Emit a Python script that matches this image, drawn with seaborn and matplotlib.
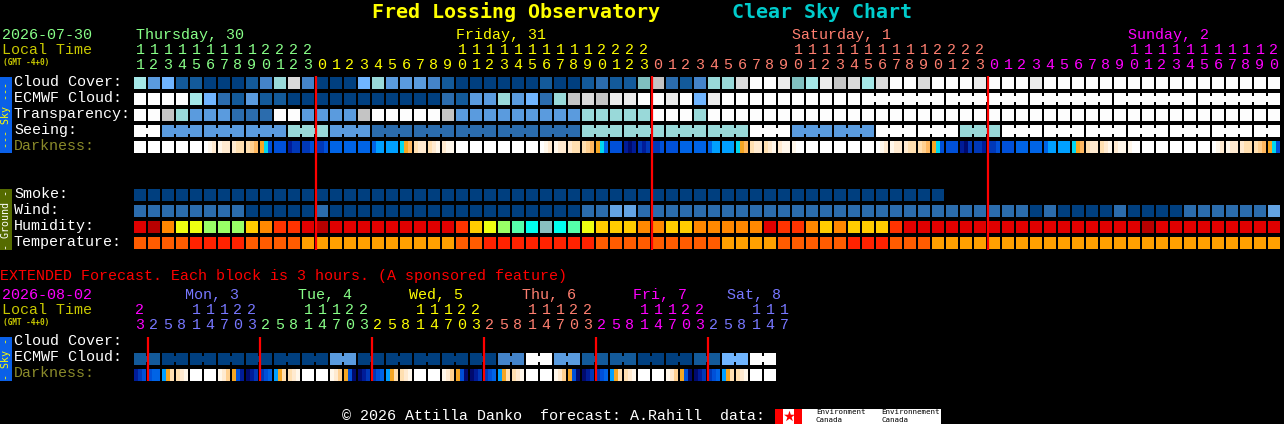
import numpy as np
import matplotlib
matplotlib.use("Agg")
import matplotlib.pyplot as plt
from matplotlib.colors import ListedColormap
from matplotlib.patches import Rectangle
import seaborn as sns

W, H = 1284, 424
BODY_FONT = ['Liberation Mono', 'DejaVu Sans Mono']

# ---- data -----------------------------------------------------------------
cloud_cover = list("8451100013" "6A30005644" "4310000001" "0012117921" "366ACCB78B"
                   "9A8ACCACCC" "BCCCBCCCCC" "CCCCCCCCCCCC")
ecmwf_cloud = list("CCCC852141" "1000000000" "0021446452" "69A9BBCCBC" "5BCCCCCCCC"
                   "CC" "CCCCCC" "CCCCCC" "CCCCCC" "CCCCCC" "CCCCCC")
ecmwf_single_cells = 52
ecmwf_block = 6
transparency = list("CC96444222" "CC44449CCC" "CC94444444" "4466666CCC" "6"
                    "CCCCCCCCCC" "CCCCCCCCCC" "CCCCCCCCCC" "CCCCCCCCCCC")
seeing_blocks = ["CC", "444", "444", "444", "666", "444", "222", "222", "222", "222", "222",
                 "666", "666", "666", "666", "CCC", "444", "444", "CCC", "CCC", "666",
                 "CCC", "CCC", "CCC", "CCC", "CCC", "CCC", "CC"]
darkness = ["WWW", "WWW", "WWW", "WWW", "WWW", "Wwc", "wcc", "cpp", "pPo", "Oqe",
            "eee", "ndd", "dde", "dde", "BBB", "BBB", "BBB", "Bbb", "bbb", "qOo",
            "pcc", "pcw", "cww", "WWW", "WWW", "WWW", "WWW", "WWW", "WWW", "Wwc",
            "wcc", "cpp", "pPo", "OqB", "eee", "nNn", "dnd", "dde", "eee", "BBB",
            "BBB", "Bbb", "bbb", "qOo", "pcc", "pcw", "cww", "wWW", "WWW", "WWW",
            "WWW", "WWW", "WWW", "Wwc", "wcc", "cpp", "pPo", "Oqe", "eee", "nNd",
            "ddn", "dde", "eee", "BBB", "BBB", "Bbb", "bbb", "qOo", "pcc", "pcw",
            "cww", "wWW", "WWW", "WWW", "WWW", "WWW", "WWW", "Wwc", "wcc", "cpp",
            "pPo", "Oqe"]
smoke = list("0000000000" "0000000000" "0000000000" "0000000000" "0000000000" "00000000")
wind = list("mmmmmmmm" "ddddd" "m" "dddddddddddddddddd" "mm" "ll"
            "mmmmmmmmmmmmmmmmmmmmmmmmmmmm" "d" "m" "dddd" "m" "dddd" "mmmmmm" "l")
humidity = list("rROYYgggyO" "oorRrrrrrr" "rrroyYgmct" "cmYyyyOOyy" "OOOOOrooOy"
                "Oy" "yy" "o" "rrrrrrrrrrrrrrrrr" "R" "rrrrrrrrr")
temperature = list("DDDD" "TTTT" "DDDD" "AAAAAAAAAAA" "DD" "TTTTTTTT" "DDDDDDDDD"
                   "AAAA" "DDDDD" "TTT" "DDD" "AAAAAAAAAAAAAAAAAAAAAAAAA")

ext_ecmwf_pairs = list("1000000" "4" "00000" "3" "C" "4" "11" "00" "1" "5" "C")
ext_darkness = ["nde", "eBB", "bOp", "pcw", "WWW", "WWW", "wcP", "Oen",
                "Nnd", "deB", "bOp", "pcw", "WWW", "WWW", "wcP", "OeN",
                "Nnd", "deB", "bOp", "pcw", "WWW", "WWW", "wcP", "OeN",
                "Nnd", "deB", "bOp", "pcw", "WWW", "WWW", "wcP", "OeN",
                "Nnd", "deB", "bOp", "pcw", "WWW", "WWW", "wcP", "OeN",
                "Nnd", "deB", "bOp", "pcw", "WWW", "WWW"]

hours_main = list(range(11, 24)) + list(range(24)) * 2 + list(range(21))
hours_ext = [23] + [2, 5, 8, 11, 14, 17, 20, 23] * 5 + [2, 5, 8, 11, 14, 17]
hours_main_days = [13, 24, 24, 21]
hours_ext_days = [1, 8, 8, 8, 8, 8, 6]

# ---- palettes -------------------------------------------------------------
sky_pal = {'0': '#003F7F', '1': '#135A9A', '2': '#2B6CAD', '3': '#4484CA', '4': '#5A9BDE',
           '5': '#70B5FF', '6': '#99D9D9', '7': '#80BFBF', '8': '#A5E8E8', '9': '#C4C4C4',
           'A': '#DADADA', 'B': '#EBEBEB', 'C': '#FDFDFD'}
dark_pal = {'W': '#FFFFFF', 'w': '#FFF7EB', 'c': '#FFEAD0', 'p': '#FFDFB0', 'P': '#FFD090',
            'o': '#FFB860', 'O': '#F5A623', 'q': '#00D8F0', 'b': '#00A0FF', 'B': '#0064E6',
            'e': '#0050D8', 'd': '#0038B8', 'n': '#001C98', 'N': '#000A6E'}
smoke_pal = {'0': '#003F7F'}
wind_pal = {'d': '#003F7F', 'm': '#2B6CAD', 'l': '#63A3E3'}
hum_pal = {'R': '#B80000', 'r': '#E00000', 'o': '#FF3300', 'O': '#FF8800', 'y': '#FFCC00',
           'Y': '#EEFF11', 'g': '#99FF66', 'm': '#55FFAA', 'c': '#00FFEE', 't': '#88BFBF'}
temp_pal = {'T': '#FF2200', 'D': '#FF5C00', 'A': '#FFA000'}

GREEN, YELLOW, CORAL, MAGENTA, VIOLET = '#88FF88', '#FFFF00', '#FF7F70', '#FF00FF', '#7777FF'
OLIVE_TXT, DARK_TXT = '#C8C800', '#8A8A2A'

# ---- figure ---------------------------------------------------------------
sns.set_theme(style="white")
plt.rcParams['font.family'] = BODY_FONT
fig = plt.figure(figsize=(W / 100, H / 100), dpi=100, facecolor='black')

CELL, PITCH = 12, 14


def draw_row(y, keys, pal, sub=1, joins=()):
    """One strip of blocks; each block is 12 px of colour and 2 px of black gap."""
    order = list(pal)
    n_blocks = len(keys) // sub
    vals = np.zeros((1, n_blocks * PITCH))
    mask = np.ones_like(vals, dtype=bool)
    for b in range(n_blocks):
        for s in range(sub):
            a = b * PITCH + s * CELL // sub
            e = b * PITCH + (s + 1) * CELL // sub
            vals[0, a:e] = order.index(keys[b * sub + s])
            mask[0, a:e] = False
    ax = fig.add_axes([134 / W, 1 - (y + CELL) / H, n_blocks * PITCH / W, CELL / H])
    ax.set_facecolor('black')
    sns.heatmap(vals, mask=mask, ax=ax, cmap=ListedColormap([pal[k] for k in order]),
                vmin=-0.5, vmax=len(order) - 0.5, cbar=False,
                xticklabels=False, yticklabels=False)
    for j in joins:
        ax.bar(j * PITCH - 3, 0.5, width=4, bottom=0.25, align='edge',
               color=pal[keys[j * sub]], linewidth=0, zorder=5)
    ax.set_xlim(0, n_blocks * PITCH)
    ax.set_ylim(1, 0)
    return ax


def joins_from_sizes(sizes, start=0):
    out, pos = [], start
    for s in sizes:
        out += list(range(pos + 1, pos + s))
        pos += s
    return out


see_keys = list("".join(seeing_blocks))
see_joins = joins_from_sizes([len(b) for b in seeing_blocks])
ec_joins = joins_from_sizes([ecmwf_block] * 5, ecmwf_single_cells)

draw_row(77, cloud_cover, sky_pal)
draw_row(93, ecmwf_cloud, sky_pal, joins=ec_joins)
draw_row(109, transparency, sky_pal)
draw_row(125, see_keys, sky_pal, joins=see_joins)
draw_row(141, list("".join(darkness)), dark_pal, sub=3)
draw_row(189, smoke, smoke_pal)
draw_row(205, wind, wind_pal)
draw_row(221, humidity, hum_pal)
draw_row(237, temperature, temp_pal)

ext_keys = [k for k in ext_ecmwf_pairs for _ in range(2)]
draw_row(353, ext_keys, sky_pal, joins=list(range(1, len(ext_keys), 2)))
draw_row(369, list("".join(ext_darkness)), dark_pal, sub=3)

# ---- overlay in pixel coordinates ----------------------------------------
ov = fig.add_axes([0, 0, 1, 1], zorder=20)
ov.set_xlim(0, W)
ov.set_ylim(H, 0)
ov.axis('off')
ov.patch.set_alpha(0)


def T(x, y, s, color='white', size=10.8, **kw):
    ov.text(x, y, s, color=color, fontsize=size, va='center',
            ha=kw.pop('ha', 'left'), **kw)


TITLE_FONT = ['DejaVu Sans Mono']
ov.text(372, 12, "Fred Lossing Observatory", color=YELLOW, fontsize=14.4, weight='bold',
        va='center', family=TITLE_FONT)
ov.text(732, 12, "Clear Sky Chart", color='#00CCCC', fontsize=14.4, weight='bold',
        va='center', family=TITLE_FONT)

T(2, 35, "2026-07-30", GREEN)
T(2, 50, "Local Time", OLIVE_TXT)
T(3, 62, "(GMT -4+0)", OLIVE_TXT, size=5.6, family=TITLE_FONT, weight='bold')
for x, s, c in [(136, "Thursday, 30", GREEN), (456, "Friday, 31", YELLOW),
                (792, "Saturday, 1", CORAL), (1128, "Sunday, 2", MAGENTA)]:
    T(x, 35, s, c)


def hour_labels(hours, day_counts, colors, y_top, y_low):
    cols = [c for n, c in zip(day_counts, colors) for _ in range(n)]
    for i, (h, c) in enumerate(zip(hours, cols)):
        x = 140 + 14 * i
        if h >= 10:
            T(x, y_top, str(h // 10), c, ha='center')
        T(x, y_low, str(h % 10), c, ha='center')


hour_labels(hours_main, hours_main_days, [GREEN, YELLOW, CORAL, MAGENTA], 50, 65)

for y, s, c in [(82, "Cloud Cover:", 'white'), (98, "ECMWF Cloud:", 'white'),
                (114, "Transparency:", 'white'), (130, "Seeing:", 'white'),
                (146, "Darkness:", DARK_TXT), (194, "Smoke:", 'white'),
                (210, "Wind:", 'white'), (226, "Humidity:", 'white'),
                (242, "Temperature:", 'white')]:
    T(14, y, s, c)

RED_LW = 1.6
ov.vlines([316, 652, 988], 76, 250, colors='#FF0000', lw=RED_LW)

T(0, 276, "EXTENDED Forecast. Each block is 3 hours. (A sponsored feature)", '#FF0000')
T(2, 295, "2026-08-02", MAGENTA)
T(2, 310, "Local Time", OLIVE_TXT)
T(3, 322, "(GMT -4+0)", OLIVE_TXT, size=5.6, family=TITLE_FONT, weight='bold')
for x, s, c in [(185, "Mon, 3", VIOLET), (298, "Tue, 4", GREEN), (409, "Wed, 5", YELLOW),
                (522, "Thu, 6", CORAL), (633, "Fri, 7", MAGENTA), (727, "Sat, 8", VIOLET)]:
    T(x, 295, s, c)
hour_labels(hours_ext, hours_ext_days,
            [MAGENTA, VIOLET, GREEN, YELLOW, CORAL, MAGENTA, VIOLET], 310, 325)
for y, s, c in [(341, "Cloud Cover:", 'white'), (357, "ECMWF Cloud:", 'white'),
                (373, "Darkness:", DARK_TXT)]:
    T(14, y, s, c)
ov.vlines([148, 260, 372, 484, 596, 708], 337, 381, colors='#FF0000', lw=RED_LW)

# side bars
for y0, y1, col, s, tc in [(77, 153, '#0A60E8', "--- Sky ---", YELLOW),
                           (189, 250, '#556B00', "- Ground -", 'white'),
                           (337, 381, '#0A60E8', "- Sky -", YELLOW)]:
    ov.add_patch(Rectangle((0, y0), 12, y1 - y0, color=col, lw=0))
    ov.text(6, (y0 + y1) / 2, s, color=tc, fontsize=7.2, rotation=90,
            ha='center', va='center', family=TITLE_FONT)

# footer
T(342, 416, "© 2026 Attilla Danko  forecast: A.Rahill  data:")
ov.add_patch(Rectangle((775, 409), 166, 15, color='white', lw=0))
ov.add_patch(Rectangle((775, 409), 8, 15, color='#FF0000', lw=0))
ov.add_patch(Rectangle((794, 409), 8, 15, color='#FF0000', lw=0))
ov.scatter([788.5], [415.5], marker='*', s=70, color='#FF0000', linewidths=0)
for x, s in [(816, "Environment"), (881, "Environnement")]:
    T(x, 412.5, s, 'black', size=5.4, family=TITLE_FONT)
    T(x, 420, "Canada", 'black', size=5.4, family=TITLE_FONT)

fig.savefig("out.png", dpi=100, facecolor='black')
